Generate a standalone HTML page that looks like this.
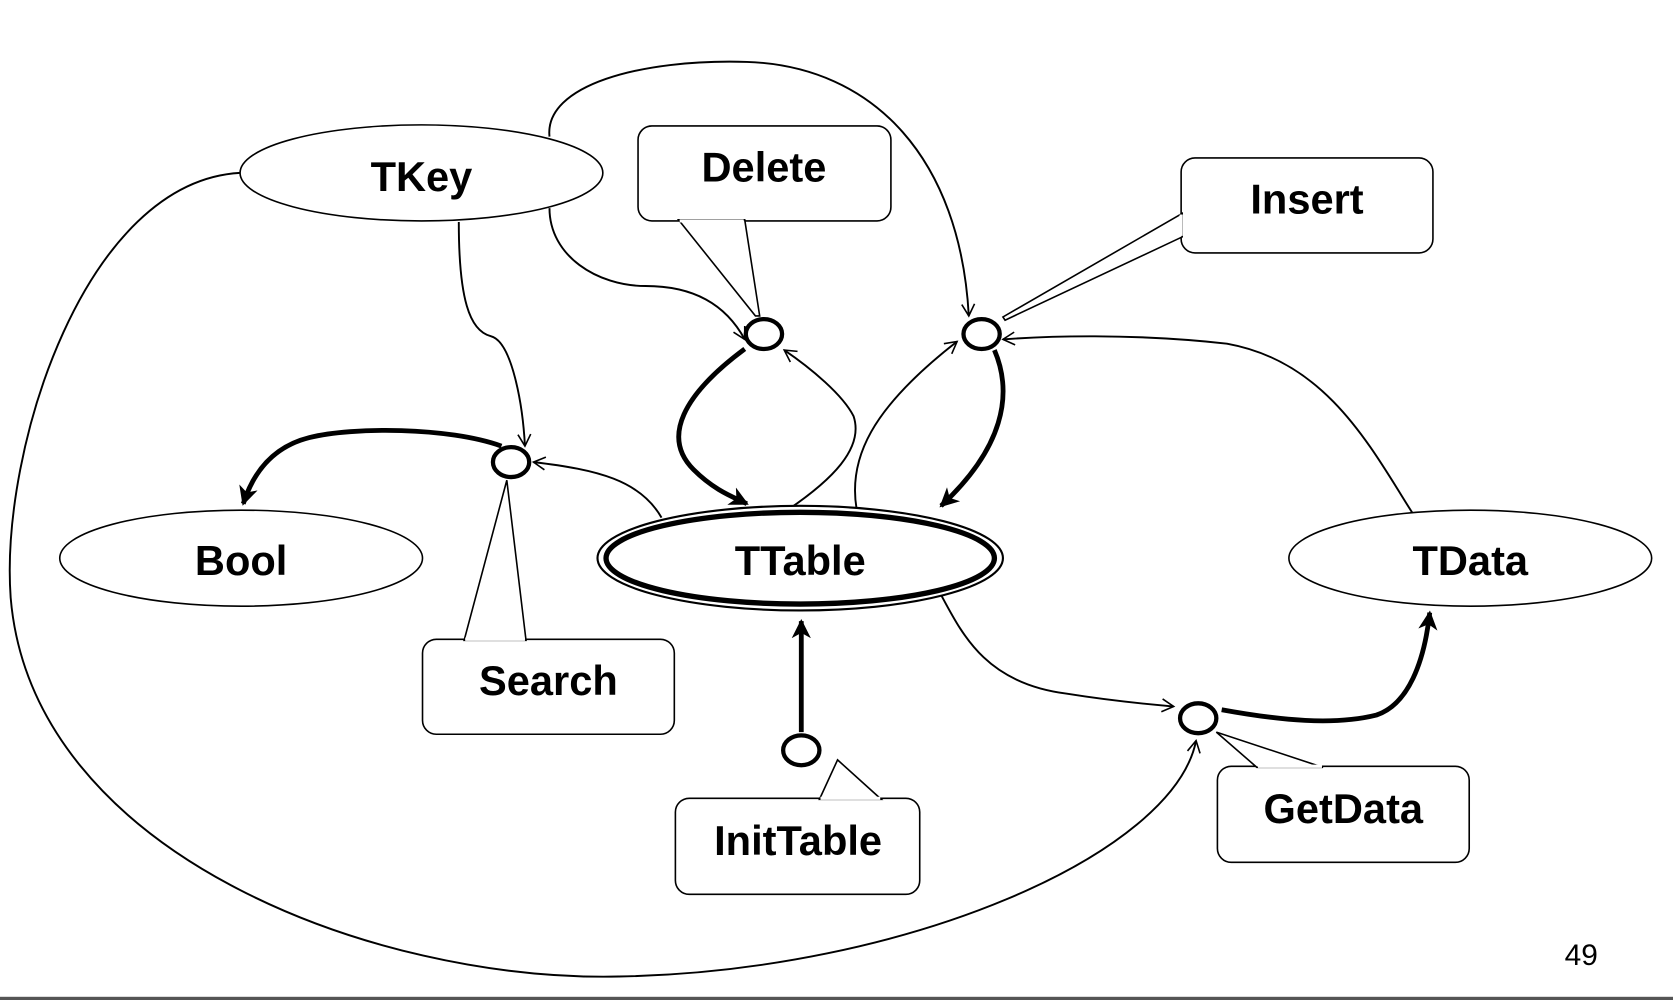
<!DOCTYPE html>
<html><head><meta charset="utf-8"><style>
html,body{margin:0;padding:0;background:#fff;width:1673px;height:1000px;overflow:hidden}
svg{display:block}
text{font-family:"Liberation Sans",Arial,sans-serif;font-weight:bold;font-size:39px;fill:#000;text-anchor:middle}
</style></head><body>
<svg width="1673" height="1000" viewBox="0 0 1568 937" preserveAspectRatio="none" xmlns="http://www.w3.org/2000/svg">
<defs>
<marker id="open" markerWidth="14" markerHeight="14" refX="12" refY="7" orient="auto" markerUnits="userSpaceOnUse">
<path d="M1,1 L12,7 L1,13" fill="none" stroke="#000" stroke-width="1.5"/></marker>
<marker id="fill" markerWidth="22" markerHeight="22" refX="16" refY="11" orient="auto" markerUnits="userSpaceOnUse">
<path d="M0,2 L18,11 L0,20 L5,11 Z" fill="#000"/></marker>
</defs>
<g fill="none" stroke="#000">
<path stroke-width="1.8" d="M225,162 C80,170 0,420 10,560 C30,800 350,920 580,915 C850,910 1100,800 1121,694" marker-end="url(#open)"/>
<path stroke-width="1.8" d="M515,128 C510,80 600,55 700,58 C820,62 900,150 908,296" marker-end="url(#open)"/>
<path stroke-width="1.8" d="M515,195 C515,240 560,268 605,268 C650,268 680,285 698,318" marker-end="url(#open)"/>
<path stroke-width="1.8" d="M430,208 C430,280 440,310 460,315 C480,320 490,380 492,418" marker-end="url(#open)"/>
<path stroke-width="1.8" d="M620,485 C600,450 560,440 500,433" marker-end="url(#open)"/>
<path stroke-width="1.8" d="M735,480 C780,450 810,420 800,390 C790,370 760,345 735,328" marker-end="url(#open)"/>
<path stroke-width="1.8" d="M805,487 C790,430 820,380 897,320" marker-end="url(#open)"/>
<path stroke-width="1.8" d="M1333,495 C1290,430 1250,340 1150,322 C1060,312 980,315 940,318" marker-end="url(#open)"/>
<path stroke-width="1.8" d="M878,550 C900,590 920,640 1000,650 C1050,658 1080,660 1100,662" marker-end="url(#open)"/>
<path stroke-width="4.5" d="M470,418 C420,400 330,400 290,410 C250,420 235,450 228,472" marker-end="url(#fill)"/>
<path stroke-width="4.5" d="M698,327 C640,370 620,410 650,440 C670,460 688,466 700,472" marker-end="url(#fill)"/>
<path stroke-width="4.5" d="M932,328 C950,370 940,420 882,474" marker-end="url(#fill)"/>
<path stroke-width="4.5" d="M1145,665 C1200,675 1250,680 1290,670 C1320,660 1335,620 1340,574" marker-end="url(#fill)"/>
<path stroke-width="4.5" d="M751,686 L751,582" marker-end="url(#fill)"/>
</g>
<g fill="#fff" stroke="#000" stroke-width="1.5">
<ellipse cx="395" cy="162" rx="170" ry="45"/>
<ellipse cx="226" cy="523" rx="170" ry="45"/>
<ellipse cx="1378" cy="523" rx="170" ry="45"/>
<ellipse cx="750" cy="523" rx="190" ry="49" stroke-width="2"/>
<ellipse cx="750" cy="523" rx="182" ry="43" stroke-width="5"/>
</g>
<g fill="#fff" stroke="#000" stroke-width="1.5">
<rect x="598" y="118" width="237" height="89" rx="13"/>
<path d="M636,206 L708,296 L712,296 L698,206 Z"/>
<line x1="637" y1="207" x2="697" y2="207" stroke="#fff" stroke-width="3"/>
<rect x="1107" y="148" width="236" height="89" rx="13"/>
<path d="M1108,200 L940,297 L942,300 L1108,222 Z"/>
<line x1="1107" y1="201" x2="1107" y2="221" stroke="#fff" stroke-width="3"/>
<rect x="396" y="599" width="236" height="89" rx="13"/>
<path d="M435,600 L475,450 L493,600 Z"/>
<line x1="436" y1="599" x2="492" y2="599" stroke="#fff" stroke-width="3"/>
<rect x="633" y="748" width="229" height="90" rx="13"/>
<path d="M768,749 L785,712 L826,749 Z"/>
<line x1="769" y1="748" x2="825" y2="748" stroke="#fff" stroke-width="3"/>
<rect x="1141" y="718" width="236" height="90" rx="13"/>
<path d="M1178,719 L1140,686 L1240,719 Z"/>
<line x1="1179" y1="718" x2="1239" y2="718" stroke="#fff" stroke-width="3"/>
</g>
<g fill="#fff" stroke="#000" stroke-width="4">
<ellipse cx="716" cy="313" rx="17" ry="14"/>
<ellipse cx="920" cy="313" rx="17" ry="14"/>
<ellipse cx="479" cy="433" rx="17" ry="14"/>
<ellipse cx="751" cy="703" rx="17" ry="14"/>
<ellipse cx="1123" cy="673" rx="17" ry="14"/>
</g>
<text x="395" y="179">TKey</text>
<text x="716" y="170">Delete</text>
<text x="1225" y="200">Insert</text>
<text x="226" y="539">Bool</text>
<text x="750" y="539">TTable</text>
<text x="1378" y="539">TData</text>
<text x="514" y="651">Search</text>
<text x="748" y="801">InitTable</text>
<text x="1259" y="771">GetData</text>
<text x="1482" y="904" style="font-weight:normal;font-size:28px">49</text>
<rect x="0" y="934" width="1568" height="3" fill="#555"/>
</svg>
</body></html>
